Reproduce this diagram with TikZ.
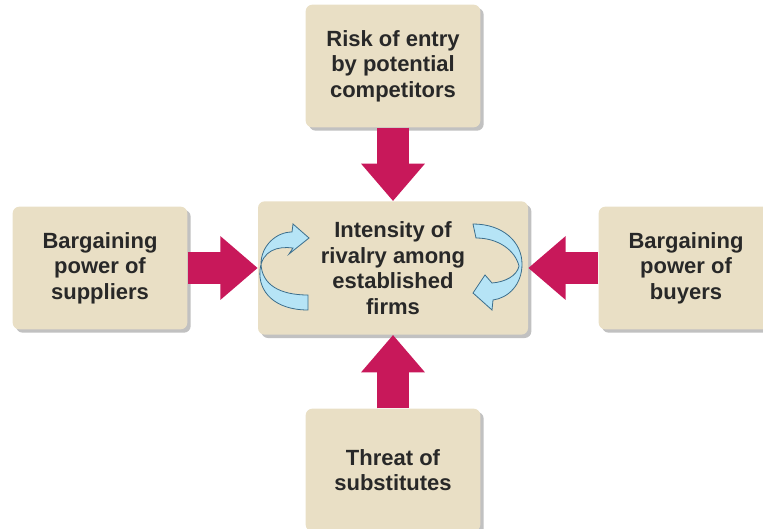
\documentclass[tikz,border=0pt]{standalone}
\usepackage{fontspec}
\setmainfont{Liberation Sans}
\usetikzlibrary{positioning,shadows,arrows.meta}
\definecolor{boxtan}{RGB}{233,223,197}
\definecolor{forcered}{RGB}{200,24,90}
\definecolor{swirlblue}{RGB}{182,228,246}
\definecolor{swirlline}{RGB}{60,110,140}
\definecolor{textgray}{RGB}{40,40,40}

\begin{document}
\begin{tikzpicture}[x=0.75pt,y=-0.75pt,node distance=151.5pt and 219.75pt,on grid,
    force/.style={fill=boxtan,rounded corners=5pt,text=textgray,align=center,
      minimum width=131pt,minimum height=92pt,
      font=\bfseries\fontsize{16.5}{19.2}\selectfont,
      drop shadow={shadow xshift=2.5pt,shadow yshift=-2.5pt,fill=black!35,opacity=.7}},
    push/.style={draw=forcered,line width=24pt,-{Triangle[length=28pt,width=46pt]}},
    swirl/.style={fill=swirlblue,draw=swirlline,line width=.6pt}]
  \clip (0,0) rectangle (763,528);

  \node[force,minimum width=202.5pt,minimum height=100pt] (rivalry) at (393,268)
       {Intensity of\\rivalry among\\established\\firms};
  \node[force] (entry)       [above=of rivalry] {Risk of entry\\by potential\\competitors};
  \node[force] (suppliers)   [left=of rivalry]  {Bargaining\\power of\\suppliers};
  \node[force] (buyers)      [right=of rivalry] {Bargaining\\power of\\buyers};
  \node[force] (substitutes) [below=of rivalry] {Threat of\\substitutes};

  % turning arrows inside the rivalry box
  \path[swirl] (308,310) .. controls (275,310) and (258,292) .. (260,270)
       .. controls (262,250) and (278,246) .. (293,248)
       -- (289,254) -- (309,238) -- (293,224) -- (292,232)
       .. controls (276,232) and (261,246) .. (261,264)
       .. controls (262,285) and (280,295) .. (308,295) -- cycle;
  \path[swirl] (473,224) .. controls (503,224) and (522,242) .. (522,264)
       .. controls (522,285) and (508,298) .. (493,300)
       -- (492,310) -- (473,293) -- (485,275) -- (492,283)
       .. controls (505,282) and (517,276) .. (519,266)
       .. controls (515,250) and (498,238) .. (476,238) -- cycle;

  \draw[push] (entry)       -- (rivalry);
  \draw[push] (suppliers)   -- (rivalry);
  \draw[push] (buyers)      -- (rivalry);
  \draw[push] (substitutes) -- (rivalry);
\end{tikzpicture}
\end{document}
